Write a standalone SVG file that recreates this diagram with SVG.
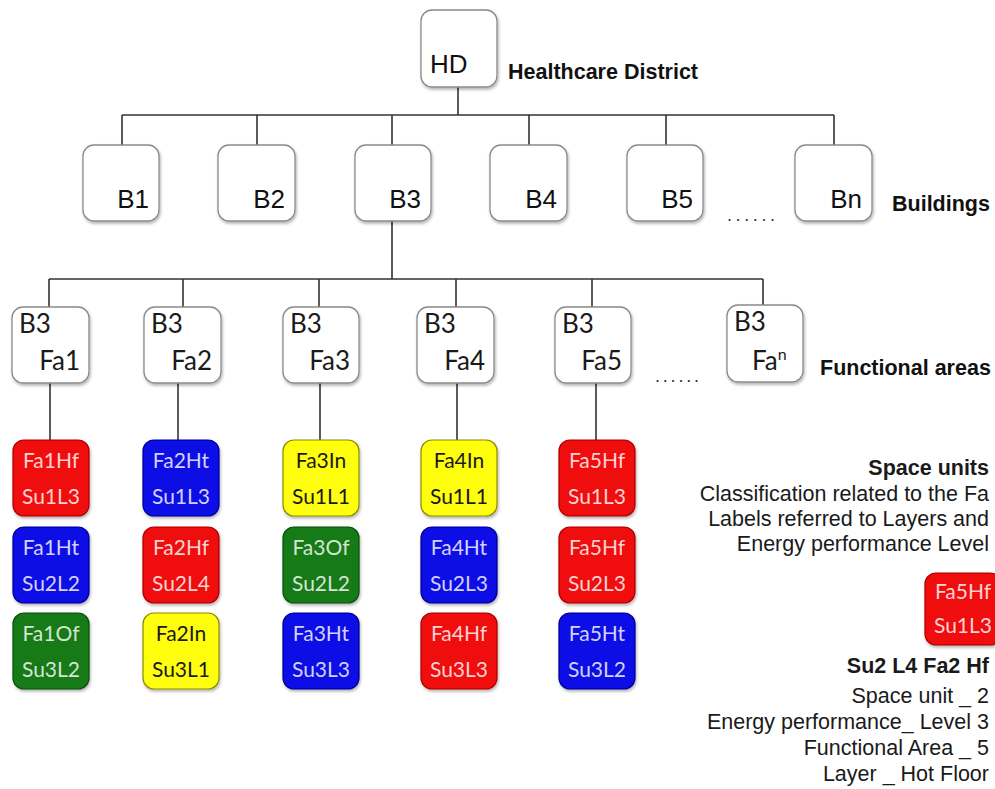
<svg xmlns="http://www.w3.org/2000/svg" width="995" height="789" viewBox="0 0 995 789">
  <defs>
    <filter id="shadow" x="-20%" y="-20%" width="140%" height="140%">
      <feDropShadow dx="1" dy="2" stdDeviation="1.5" flood-color="#000" flood-opacity="0.3"/>
    </filter>
  </defs>
  <style>
    .box { fill: #fff; stroke: #8a8a8a; stroke-width: 1.3; filter: url(#shadow); }
    .su { stroke-width: 1.2; filter: url(#shadow); }
    .red { fill: #ef0b0b; stroke: #b00000; }
    .blue { fill: #0b0be6; stroke: #00009a; }
    .green { fill: #137a13; stroke: #0a500a; }
    .yellow { fill: #ffff0c; stroke: #8c8c00; }
    .hv { font-family: "Liberation Sans", Arial, sans-serif; fill: #111; }
    .big { font-size: 26px; }
    .label { font-size: 21.5px; font-weight: bold; }
    .note { font-size: 21.5px; text-anchor: end; fill: #1a1a1a; }
    .cal { font-family: Lato, "Open Sans", sans-serif; fill: #1a1a1a; }
    .fa { font-size: 26px; }
    .sut { font-size: 21px; text-anchor: middle; fill: #fff; fill-opacity: 0.82; }
    .dark { fill: #1a1a1a; fill-opacity: 1; }
    .line { stroke: #333; stroke-width: 1.6; fill: none; }
    .dots { font-family: "Liberation Sans", Arial, sans-serif; font-size: 18px; fill: #333; }
  </style>

  <!-- connectors -->
  <g id="connectors" class="line">
    <path d="M458 87V115M122 115H834M122 115V145M257 115V145M392 115V145M529 115V145M666 115V145M834 115V145"/>
    <path d="M392 221V279M49 279H763M49 279V307M183 279V307M319 279V307M456 279V307M592 279V307M763 279V305"/>
    <path d="M50 383V440M178 383V440M320 383V440M457 383V440M596 383V440"/>
  </g>

  <!-- district -->
  <g id="HD">
    <rect class="box" x="421" y="10" width="76" height="77" rx="11"/>
    <text class="hv big" x="430" y="73">HD</text>
  </g>
  <text class="hv label" x="508" y="79">Healthcare District</text>

  <!-- buildings -->
  <g id="B1"><rect class="box" x="83" y="145" width="76" height="76" rx="11"/><text class="hv big" x="149" y="208" text-anchor="end">B1</text></g>
  <g id="B2"><rect class="box" x="218" y="145" width="77" height="76" rx="11"/><text class="hv big" x="285" y="208" text-anchor="end">B2</text></g>
  <g id="B3"><rect class="box" x="355" y="145" width="76" height="76" rx="11"/><text class="hv big" x="421" y="208" text-anchor="end">B3</text></g>
  <g id="B4"><rect class="box" x="490" y="145" width="77" height="76" rx="11"/><text class="hv big" x="557" y="208" text-anchor="end">B4</text></g>
  <g id="B5"><rect class="box" x="627" y="145" width="76" height="76" rx="11"/><text class="hv big" x="693" y="208" text-anchor="end">B5</text></g>
  <g id="Bn"><rect class="box" x="795" y="145" width="77" height="76" rx="11"/><text class="hv big" x="862" y="208" text-anchor="end">Bn</text></g>
  <text class="dots" x="727" y="221" letter-spacing="3.6">......</text>
  <text class="hv label" x="892" y="211">Buildings</text>

  <!-- functional areas -->
  <g id="Fa1"><rect class="box" x="12" y="307" width="77" height="76" rx="11"/><text class="cal fa" x="19" y="333">B3</text><text class="cal fa" x="80" y="370" text-anchor="end">Fa1</text></g>
  <g id="Fa2"><rect class="box" x="144" y="307" width="77" height="76" rx="11"/><text class="cal fa" x="151" y="333">B3</text><text class="cal fa" x="212" y="370" text-anchor="end">Fa2</text></g>
  <g id="Fa3"><rect class="box" x="283" y="307" width="76" height="76" rx="11"/><text class="cal fa" x="290" y="333">B3</text><text class="cal fa" x="350" y="370" text-anchor="end">Fa3</text></g>
  <g id="Fa4"><rect class="box" x="417" y="307" width="77" height="76" rx="11"/><text class="cal fa" x="424" y="333">B3</text><text class="cal fa" x="485" y="370" text-anchor="end">Fa4</text></g>
  <g id="Fa5"><rect class="box" x="555" y="307" width="76" height="76" rx="11"/><text class="cal fa" x="562" y="333">B3</text><text class="cal fa" x="622" y="370" text-anchor="end">Fa5</text></g>
  <g id="Fan"><rect class="box" x="727" y="305" width="76" height="77" rx="11"/><text class="cal fa" x="734" y="331">B3</text><text class="cal fa" x="752" y="370">Fa<tspan font-size="16" dy="-10">n</tspan></text></g>
  <text class="dots" x="655" y="382" letter-spacing="2.8">......</text>
  <text class="hv label" x="820" y="375">Functional areas</text>

  <!-- space units, column Fa1 -->
  <g id="Fa1Hf-Su1L3"><rect class="su red" x="13" y="440" width="76" height="76" rx="11"/><text class="cal sut" x="51" y="468">Fa1Hf</text><text class="cal sut" x="51" y="504">Su1L3</text></g>
  <g id="Fa1Ht-Su2L2"><rect class="su blue" x="13" y="527" width="76" height="76" rx="11"/><text class="cal sut" x="51" y="555">Fa1Ht</text><text class="cal sut" x="51" y="591">Su2L2</text></g>
  <g id="Fa1Of-Su3L2"><rect class="su green" x="13" y="613" width="76" height="76" rx="11"/><text class="cal sut" x="51" y="641">Fa1Of</text><text class="cal sut" x="51" y="677">Su3L2</text></g>

  <!-- column Fa2 -->
  <g id="Fa2Ht-Su1L3"><rect class="su blue" x="143" y="440" width="76" height="76" rx="11"/><text class="cal sut" x="181" y="468">Fa2Ht</text><text class="cal sut" x="181" y="504">Su1L3</text></g>
  <g id="Fa2Hf-Su2L4"><rect class="su red" x="143" y="527" width="76" height="76" rx="11"/><text class="cal sut" x="181" y="555">Fa2Hf</text><text class="cal sut" x="181" y="591">Su2L4</text></g>
  <g id="Fa2In-Su3L1"><rect class="su yellow" x="143" y="613" width="76" height="76" rx="11"/><text class="cal sut dark" x="181" y="641">Fa2In</text><text class="cal sut dark" x="181" y="677">Su3L1</text></g>

  <!-- column Fa3 -->
  <g id="Fa3In-Su1L1"><rect class="su yellow" x="283" y="440" width="76" height="76" rx="11"/><text class="cal sut dark" x="321" y="468">Fa3In</text><text class="cal sut dark" x="321" y="504">Su1L1</text></g>
  <g id="Fa3Of-Su2L2"><rect class="su green" x="283" y="527" width="76" height="76" rx="11"/><text class="cal sut" x="321" y="555">Fa3Of</text><text class="cal sut" x="321" y="591">Su2L2</text></g>
  <g id="Fa3Ht-Su3L3"><rect class="su blue" x="283" y="613" width="76" height="76" rx="11"/><text class="cal sut" x="321" y="641">Fa3Ht</text><text class="cal sut" x="321" y="677">Su3L3</text></g>

  <!-- column Fa4 -->
  <g id="Fa4In-Su1L1"><rect class="su yellow" x="421" y="440" width="76" height="76" rx="11"/><text class="cal sut dark" x="459" y="468">Fa4In</text><text class="cal sut dark" x="459" y="504">Su1L1</text></g>
  <g id="Fa4Ht-Su2L3"><rect class="su blue" x="421" y="527" width="76" height="76" rx="11"/><text class="cal sut" x="459" y="555">Fa4Ht</text><text class="cal sut" x="459" y="591">Su2L3</text></g>
  <g id="Fa4Hf-Su3L3"><rect class="su red" x="421" y="613" width="76" height="76" rx="11"/><text class="cal sut" x="459" y="641">Fa4Hf</text><text class="cal sut" x="459" y="677">Su3L3</text></g>

  <!-- column Fa5 -->
  <g id="Fa5Hf-Su1L3"><rect class="su red" x="559" y="440" width="76" height="76" rx="11"/><text class="cal sut" x="597" y="468">Fa5Hf</text><text class="cal sut" x="597" y="504">Su1L3</text></g>
  <g id="Fa5Hf-Su2L3"><rect class="su red" x="559" y="527" width="76" height="76" rx="11"/><text class="cal sut" x="597" y="555">Fa5Hf</text><text class="cal sut" x="597" y="591">Su2L3</text></g>
  <g id="Fa5Ht-Su3L2"><rect class="su blue" x="559" y="613" width="76" height="76" rx="11"/><text class="cal sut" x="597" y="641">Fa5Ht</text><text class="cal sut" x="597" y="677">Su3L2</text></g>

  <!-- legend -->
  <g id="legend">
    <text class="hv note" x="989" y="475" font-weight="bold">Space units</text>
    <text class="hv note" x="989" y="501">Classification related to the Fa</text>
    <text class="hv note" x="989" y="526">Labels referred to Layers and</text>
    <text class="hv note" x="989" y="551">Energy performance Level</text>
    <g id="legend-sample"><rect class="su red" x="925" y="573" width="76" height="72" rx="11"/><text class="cal sut" x="963" y="599">Fa5Hf</text><text class="cal sut" x="963" y="633">Su1L3</text></g>
    <text class="hv note" x="989" y="673" font-weight="bold">Su2 L4 Fa2 Hf</text>
    <text class="hv note" x="989" y="703">Space unit _ 2</text>
    <text class="hv note" x="989" y="729">Energy performance_ Level 3</text>
    <text class="hv note" x="989" y="755">Functional Area _ 5</text>
    <text class="hv note" x="989" y="781">Layer _ Hot Floor</text>
  </g>
</svg>
